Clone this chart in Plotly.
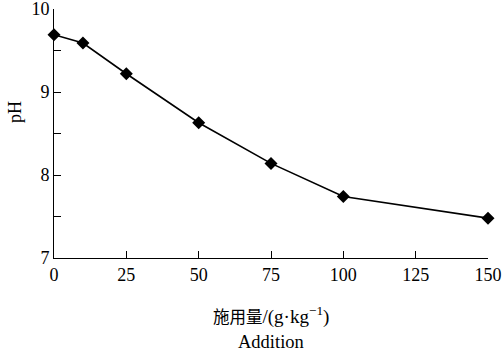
import plotly.graph_objects as go

addition = [0, 10, 25, 50, 75, 100, 150]
ph = [9.69, 9.59, 9.22, 8.63, 8.14, 7.74, 7.48]
x_ticks = [0, 25, 50, 75, 100, 125, 150]
y_ticks = [7, 8, 9, 10]

font_fam = "Liberation Serif, Times New Roman, Noto Sans CJK SC, serif"

fig = go.Figure()
fig.add_trace(go.Scatter(
    x=addition, y=ph, mode="lines+markers",
    line=dict(color="black", width=1.6),
    marker=dict(symbol="diamond", size=10, color="black"),
    cliponaxis=False, showlegend=False,
))

fig.update_layout(
    width=503, height=353,
    margin=dict(l=54, r=15, t=9, b=95),
    paper_bgcolor="white", plot_bgcolor="white",
    font=dict(family=font_fam, color="black", size=18),
    xaxis=dict(
        range=[0, 150], tickvals=x_ticks, ticks="inside", ticklen=7,
        tickcolor="black", showline=True, linecolor="black", linewidth=1,
        showgrid=False, zeroline=False, tickfont=dict(size=18),
        automargin=False, ticklabeloverflow="allow",
    ),
    yaxis=dict(
        range=[7, 10], tickvals=y_ticks, ticks="inside", ticklen=7,
        tickcolor="black", showline=True, linecolor="black", linewidth=1,
        showgrid=False, zeroline=False, tickfont=dict(size=18),
        minor=dict(dtick=0.5, tick0=7, ticks="inside", ticklen=7, tickcolor="black", showgrid=False),
        automargin=False, ticklabeloverflow="allow",
    ),
    annotations=[
        dict(text="<span style='font-size:16.5px'>施用量</span>/(g·kg<sup>−1</sup>)",
             xref="paper", yref="paper", x=0.5, y=0, yshift=-57,
             xanchor="center", yanchor="middle", showarrow=False, font=dict(size=19)),
        dict(text="Addition",
             xref="paper", yref="paper", x=0.5, y=0, yshift=-84,
             xanchor="center", yanchor="middle", showarrow=False, font=dict(size=18.5)),
        dict(text="pH", textangle=-90,
             xref="paper", yref="y", x=0, y=8.76, xshift=-39,
             xanchor="center", yanchor="middle", showarrow=False, font=dict(size=18)),
    ],
)

fig.write_html("out.html", config={"displayModeBar": False},
               post_script="document.body.style.margin='0';")
